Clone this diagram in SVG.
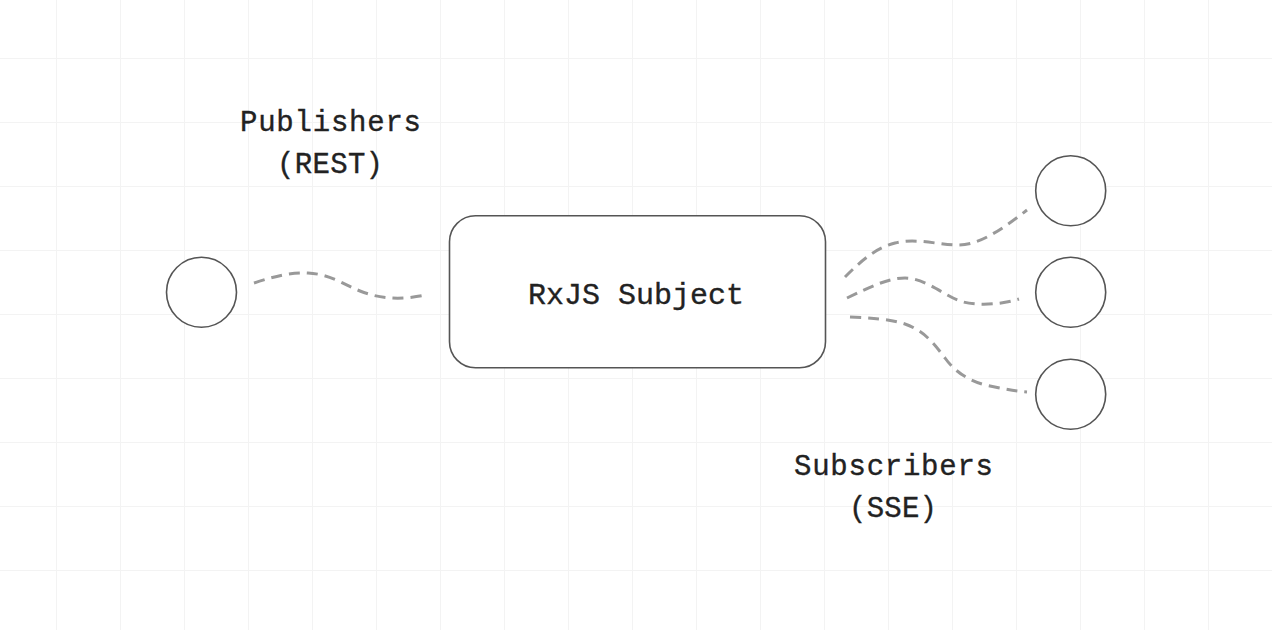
<svg xmlns="http://www.w3.org/2000/svg" width="1272" height="630" viewBox="0 0 1272 630">
  <defs>
    <pattern id="grid" x="0" y="0" width="64" height="64" patternUnits="userSpaceOnUse" patternTransform="translate(56 58)">
      <path d="M0.5,0 V64 M0,0.5 H64" fill="none" stroke="#f3f3f3" stroke-width="1"/>
    </pattern>
  </defs>
  <style>
    .node { fill: #ffffff; stroke: #555555; stroke-width: 1.6; }
    .wire { fill: none; stroke: #999999; stroke-width: 3; stroke-dasharray: 11 7; stroke-linecap: butt; }
    .lbl { font-family: "Liberation Mono", "DejaVu Sans Mono", monospace; fill: #222222; stroke: #222222; stroke-width: 0.35; text-anchor: middle; }
  </style>
  <rect width="1272" height="630" fill="#ffffff"/>
  <rect width="1272" height="630" fill="url(#grid)"/>

  <g id="connectors">
    <path class="wire" d="M254,283 C275,276 292,272 308,273 C330,274 345,285 360,291 C375,297 390,299 405,298 C415,297 421,296 426,295"/>
    <path class="wire" d="M845,277 C860,262 875,248 895,243 C915,238 935,244 955,245 C975,246 995,235 1027,210"/>
    <path class="wire" d="M847,298 C870,287 888,278 905,278 C925,278 943,295 960,301 C975,306 1000,305 1019,299"/>
    <path class="wire" d="M850,317 C870,318 890,319 905,324 C925,331 935,345 945,358 C955,372 970,382 990,386 C1005,389 1015,391 1027,392"/>
  </g>

  <g id="publisher">
    <circle class="node" cx="201.5" cy="292.3" r="35"/>
  </g>

  <g id="subject">
    <rect class="node" x="449.5" y="215.7" width="376" height="152" rx="26"/>
    <text class="lbl" x="636" y="304" font-size="30" textLength="216" lengthAdjust="spacing">RxJS Subject</text>
  </g>

  <g id="subscriber1">
    <circle class="node" cx="1070.7" cy="190.7" r="35"/>
  </g>
  <g id="subscriber2">
    <circle class="node" cx="1070.7" cy="292.3" r="35"/>
  </g>
  <g id="subscriber3">
    <circle class="node" cx="1070.7" cy="394.3" r="35"/>
  </g>

  <g id="publishers-label">
    <text class="lbl" x="330.5" y="131" font-size="29" textLength="181" lengthAdjust="spacing">Publishers</text>
    <text class="lbl" x="330" y="173" font-size="29" textLength="106" lengthAdjust="spacing">(REST)</text>
  </g>

  <g id="subscribers-label">
    <text class="lbl" x="893.5" y="475" font-size="29" textLength="199" lengthAdjust="spacing">Subscribers</text>
    <text class="lbl" x="893" y="517" font-size="29" textLength="88" lengthAdjust="spacing">(SSE)</text>
  </g>
</svg>
